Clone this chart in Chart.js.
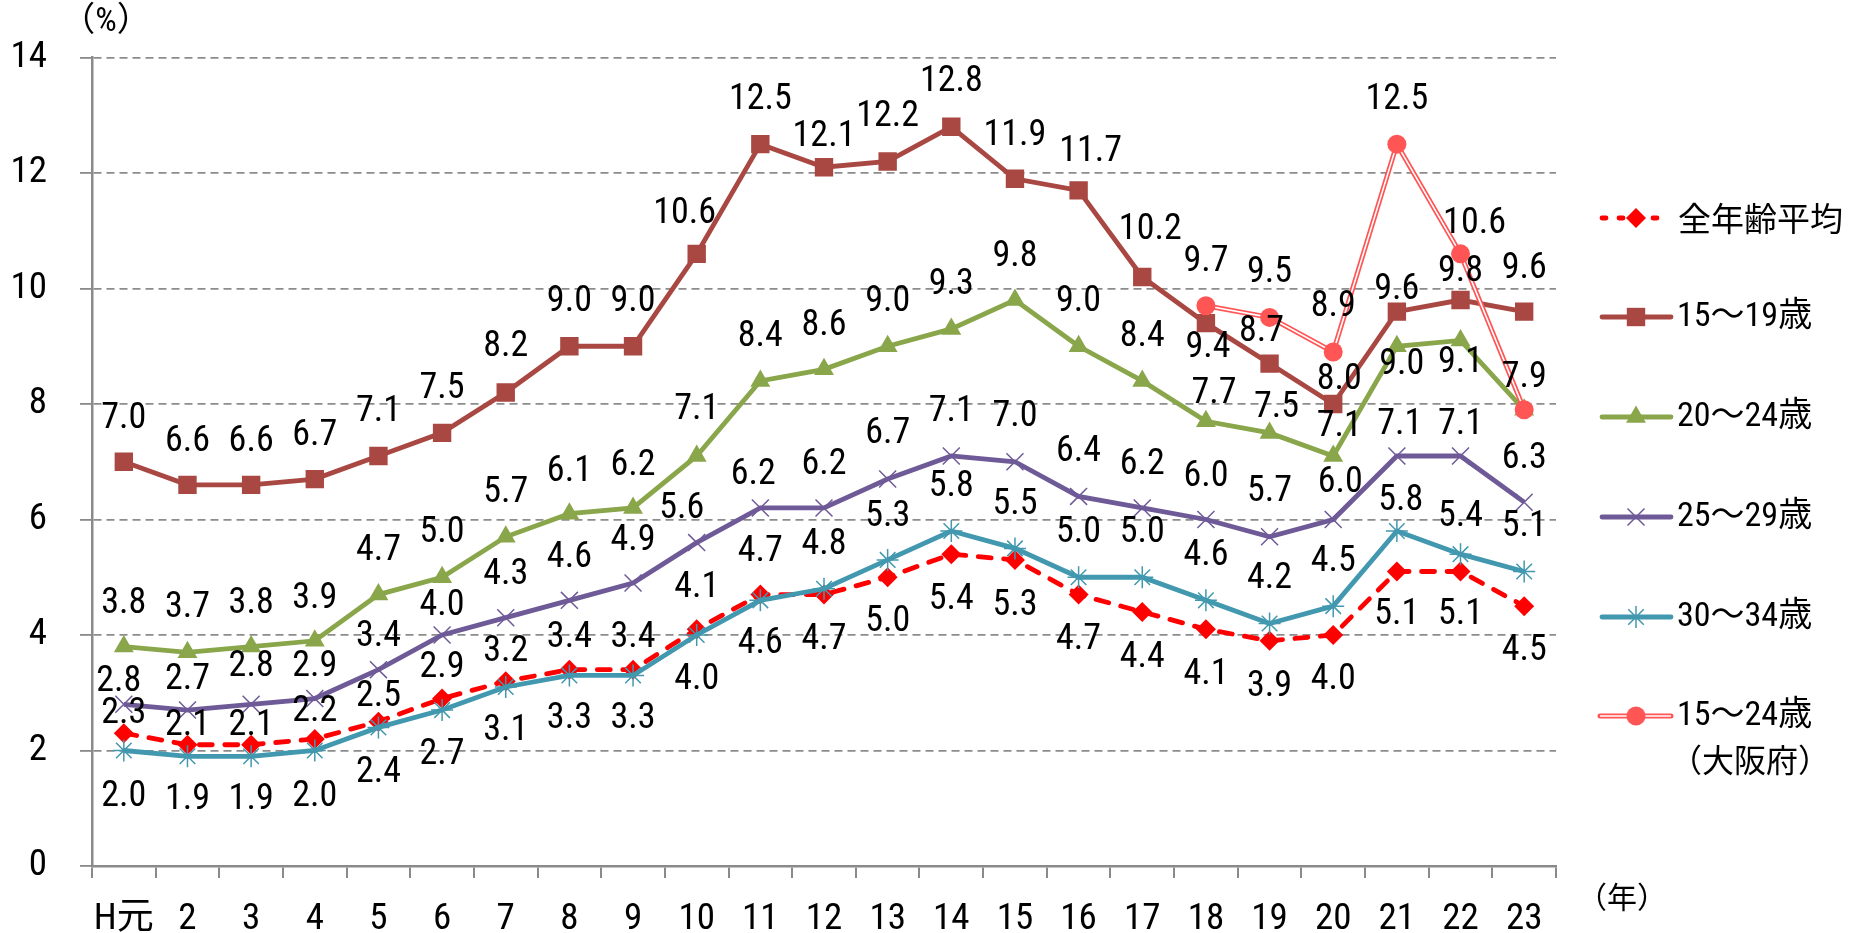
<!DOCTYPE html>
<html><head><meta charset="utf-8">
<script src="https://cdn.jsdelivr.net/npm/chart.js@4.4.0/dist/chart.umd.min.js"></script>
<style>html,body{margin:0;padding:0;background:#fff;}#wrap{width:1867px;height:933px;}</style>
</head><body><div id="wrap"><canvas id="c" width="1867" height="933"></canvas></div>
<script>
// ---- data ----
const categories = ['H元','2','3','4','5','6','7','8','9','10','11','12','13','14','15','16','17','18','19','20','21','22','23'];
const avgAll   = [2.3,2.1,2.1,2.2,2.5,2.9,3.2,3.4,3.4,4.1,4.7,4.7,5.0,5.4,5.3,4.7,4.4,4.1,3.9,4.0,5.1,5.1,4.5];
const age15_19 = [7.0,6.6,6.6,6.7,7.1,7.5,8.2,9.0,9.0,10.6,12.5,12.1,12.2,12.8,11.9,11.7,10.2,9.4,8.7,8.0,9.6,9.8,9.6];
const age20_24 = [3.8,3.7,3.8,3.9,4.7,5.0,5.7,6.1,6.2,7.1,8.4,8.6,9.0,9.3,9.8,9.0,8.4,7.7,7.5,7.1,9.0,9.1,7.9];
const age25_29 = [2.8,2.7,2.8,2.9,3.4,4.0,4.3,4.6,4.9,5.6,6.2,6.2,6.7,7.1,7.0,6.4,6.2,6.0,5.7,6.0,7.1,7.1,6.3];
const age30_34 = [2.0,1.9,1.9,2.0,2.4,2.7,3.1,3.3,3.3,4.0,4.6,4.8,5.3,5.8,5.5,5.0,5.0,4.6,4.2,4.5,5.8,5.4,5.1];
const osaka15_24 = [null,null,null,null,null,null,null,null,null,null,null,null,null,null,null,null,null,9.7,9.5,8.9,12.5,10.6,7.9];
const yTicks = [0,2,4,6,8,10,12,14];
const seriesNames = ['全年齢平均','15～19歳','20～24歳','25～29歳','30～34歳','15～24歳','（大阪府）'];

// ---- label placement (pixel offsets from the marker; null = no label) ----
const dyAvg  = [-19,-19,-19,-27,-25,-31,-29,-32,-32,-41,-43,45,45,46,46,45,46,46,46,45,44,44,45];
const dy1519 = [-43,-43,-43,-43,-44,-44,-45,-44,-44,-40,-44,-30,-44,-45,-43,-38,-47,25,-32,-24,-22,-28,-43];
const dx1519 = [0,0,0,0,0,0,0,0,0,-12,0,0,0,0,0,12,8,2,-8,6,0,0,0];
const dy2024 = [-43,-44,-43,-42,-44,-44,-44,-42,-42,-46,-44,-43,-44,-44,-43,-44,-44,-27,-25,-29,19,23,null];
const dx2024 = [0,0,0,0,0,0,0,0,0,0,0,0,0,0,0,0,0,8,7,6,5,0,0];
const dy2529 = [-22,-30,-37,-32,-33,-29,-43,-42,-42,-34,-33,-43,-45,-44,-45,-44,-43,-43,-45,-37,-31,-31,-43];
const dx2529 = [-5,0,0,0,0,0,0,0,0,-15,-7,0,0,0,0,0,0,0,0,7,3,0,0];
const dy3034 = [46,44,44,46,46,45,44,44,44,45,44,-44,-43,-44,-43,-44,-44,-44,-44,-44,-30,-37,-44];
const dx3034 = [0,0,0,0,0,0,0,0,0,0,0,0,0,0,0,0,0,0,0,0,4,0,0];
const dyOsaka = [null,null,null,null,null,null,null,null,null,null,null,null,null,null,null,null,null,-44,-44,-45,-44,-30,-32];
const dxOsaka = [0,0,0,0,0,0,0,0,0,0,0,0,0,0,0,0,0,0,0,0,0,14,0];

const NARROW = '"Roboto Condensed","Noto Sans CJK JP",sans-serif';
const CJK = '"Noto Sans CJK JP",sans-serif';

const cRed='#FF0000', cBrown='#A94743', cGreen='#8AA64B', cPurple='#6F5A98', cTeal='#4298AF', cPink='#FF5555';

const datasets = [
  {label:seriesNames[5], data:osaka15_24, showLine:false, pointStyle:'circle', pointRadius:9.5, pointBackgroundColor:cPink, pointBorderWidth:0, borderColor:cPink, order:0, labelDy:dyOsaka, labelDx:dxOsaka},
  {label:'osaka-inner', data:osaka15_24, borderColor:'#FFFFFF', borderWidth:1.6, pointRadius:0, order:1},
  {label:'osaka-outer', data:osaka15_24, borderColor:cPink, borderWidth:5, pointRadius:0, order:2},
  {label:seriesNames[4], data:age30_34, borderColor:cTeal, borderWidth:4.8, pointStyle:'star', pointRadius:11, pointBorderColor:cTeal, pointBorderWidth:1.5, pointBackgroundColor:cTeal, order:3, labelDy:dy3034, labelDx:dx3034},
  {label:seriesNames[3], data:age25_29, borderColor:cPurple, borderWidth:4.8, pointStyle:'crossRot', pointRadius:12, pointBorderColor:cPurple, pointBorderWidth:1.5, pointBackgroundColor:cPurple, order:4, labelDy:dy2529, labelDx:dx2529},
  {label:seriesNames[2], data:age20_24, borderColor:cGreen, borderWidth:4.8, pointStyle:'triangle', pointRadius:11.5, pointBackgroundColor:cGreen, pointBorderWidth:0, order:5, labelDy:dy2024, labelDx:dx2024},
  {label:seriesNames[1], data:age15_19, borderColor:cBrown, borderWidth:4.8, pointStyle:'rect', pointRadius:13, pointBackgroundColor:cBrown, pointBorderWidth:0, order:6, labelDy:dy1519, labelDx:dx1519},
  {label:seriesNames[0], data:avgAll, borderColor:cRed, borderWidth:4.8, borderDash:[13,12.5], borderCapStyle:'round', pointStyle:'rectRot', pointRadius:10, pointBackgroundColor:cRed, pointBorderWidth:0, order:7, labelDy:dyAvg, labelDx:null}
];

const labelPlugin = {
  id:'valueLabels',
  afterDatasetsDraw(chart){
    const ctx = chart.ctx;
    ctx.save();
    ctx.font = '36px ' + NARROW;
    ctx.fillStyle = '#000';
    ctx.textAlign = 'center';
    ctx.textBaseline = 'middle';
    chart.data.datasets.forEach((ds, di) => {
      if (!ds.labelDy) return;
      const meta = chart.getDatasetMeta(di);
      meta.data.forEach((pt, i) => {
        const v = ds.data[i];
        const dy = ds.labelDy[i];
        if (v === null || v === undefined || dy === null) return;
        const dx = ds.labelDx ? ds.labelDx[i] : 0;
        ctx.fillText(v.toFixed(1), pt.x + dx, pt.y + dy);
      });
    });
    ctx.restore();
  }
};

const legendPlugin = {
  id:'sideLegend',
  afterDraw(chart){
    const ctx = chart.ctx;
    const H = Chart.helpers;
    const items = [
      {ds:7, y:218, x2:1662},
      {ds:6, y:317, x2:1671},
      {ds:5, y:417, x2:1671},
      {ds:4, y:517, x2:1671},
      {ds:3, y:617, x2:1671},
      {ds:0, y:716, x2:1671, osaka:true}
    ];
    items.forEach(it => {
      const ds = chart.data.datasets[it.ds];
      ctx.save();
      ctx.lineCap = 'round';
      if (it.osaka) {
        ctx.strokeStyle = cPink; ctx.lineWidth = 5;
        ctx.beginPath(); ctx.moveTo(1600, it.y); ctx.lineTo(it.x2, it.y); ctx.stroke();
        ctx.strokeStyle = '#fff'; ctx.lineWidth = 1.6; ctx.lineCap='butt';
        ctx.beginPath(); ctx.moveTo(1600, it.y); ctx.lineTo(it.x2, it.y); ctx.stroke();
      } else {
        ctx.strokeStyle = ds.borderColor; ctx.lineWidth = ds.borderWidth;
        if (ds.borderDash) ctx.setLineDash([4, 13]);
        ctx.beginPath(); ctx.moveTo(1602, it.y); ctx.lineTo(it.x2, it.y); ctx.stroke();
      }
      ctx.restore();
      ctx.save();
      const col = ds.pointBackgroundColor;
      ctx.fillStyle = col; ctx.strokeStyle = ds.pointBorderColor || col;
      ctx.lineWidth = ds.pointBorderWidth || 0;
      H.drawPoint(ctx, {pointStyle: ds.pointStyle, radius: ds.pointRadius, rotation: 0, borderWidth: ds.pointBorderWidth || 0}, 1636, it.y);
      ctx.restore();
    });
    ctx.save();
    ctx.fillStyle = '#000';
    ctx.textBaseline = 'middle';
    ctx.textAlign = 'left';
    ctx.font = '33px ' + CJK;
    ctx.fillText(seriesNames[0], 1678, 218);
    ctx.font = '34px ' + NARROW;
    ctx.fillText(seriesNames[1], 1677, 317);
    ctx.fillText(seriesNames[2], 1677, 417);
    ctx.fillText(seriesNames[3], 1677, 517);
    ctx.fillText(seriesNames[4], 1677, 617);
    ctx.fillText(seriesNames[5], 1677, 716);
    ctx.font = '32px ' + CJK;
    ctx.fillText(seriesNames[6], 1670, 760);
    ctx.textAlign = 'center';
    ctx.font = '34px ' + NARROW;
    ctx.fillText('（%）', 106, 22);
    ctx.font = '30px ' + CJK;
    ctx.fillText('（年）', 1622, 897);
    ctx.restore();
  }
};

new Chart(document.getElementById('c'), {
  type:'line',
  data:{labels:categories, datasets:datasets},
  options:{
    responsive:false, animation:false, devicePixelRatio:1,
    layout:{padding:{left:0, top:57.5, right:311, bottom:0}},
    plugins:{legend:{display:false}, tooltip:{enabled:false}},
    elements:{line:{tension:0, fill:false}},
    scales:{
      x:{
        type:'category', offset:true,
        grid:{display:true, drawOnChartArea:false, drawTicks:true, tickLength:12, color:'#8a8a8a', lineWidth:2, offset:true},
        border:{display:true, color:'#8a8a8a', width:2.5},
        ticks:{color:'#000', font:{size:37, family:NARROW}, padding:20, maxRotation:0, autoSkip:false},
        afterFit(s){ s.height = 67; }
      },
      y:{
        min:0, max:14,
        afterBuildTicks(s){ s.ticks = yTicks.map(v => ({value:v})); },
        grid:{color:'#8c8c8c', lineWidth:1.8, tickLength:12, tickColor:'#8a8a8a', tickBorderDash:[], drawTicks:true},
        border:{display:true, color:'#8a8a8a', width:2.5, dash:[8,5]},
        ticks:{color:'#000', font:{size:37, family:NARROW}, padding:33},
        afterFit(s){ s.width = 92; }
      }
    }
  },
  plugins:[labelPlugin, legendPlugin]
});
</script></body></html>
